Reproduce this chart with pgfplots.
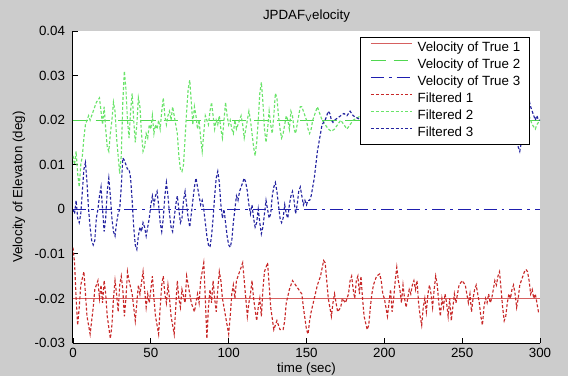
\documentclass[border=0pt]{standalone}
\usepackage{fontspec}
\setmainfont{Liberation Sans}
\usepackage{pgfplots}
\pgfplotsset{compat=1.18}
\definecolor{figgray}{RGB}{204,204,204}
\definecolor{truered}{RGB}{214,96,96}
\definecolor{truegreen}{RGB}{80,215,80}
\definecolor{trueblue}{RGB}{30,30,175}
\definecolor{filtred}{RGB}{200,40,40}
\definecolor{filtgreen}{RGB}{105,228,105}
\definecolor{filtblue}{RGB}{35,35,160}
\begin{document}
\fontsize{10}{12}\selectfont
\begin{tikzpicture}
\fill[figgray] (0,0) rectangle (426pt,282pt);
\useasboundingbox (0,0) rectangle (426pt,282pt);
\begin{axis}[
  at={(54.75pt,24.75pt)}, anchor=south west,
  scale only axis, width=350.25pt, height=234pt,
  xmin=0, xmax=300, ymin=-0.03, ymax=0.04,
  axis x line*=bottom, axis y line*=left,
  axis line style={-,black,line width=0.75pt},
  axis background/.style={fill=white},
  tick align=inside, major tick length=4pt,
  tick style={black,line width=0.6pt},
  xtick={0,50,100,150,200,250,300},
  ytick={-0.03,-0.02,-0.01,0,0.01,0.02,0.03,0.04},
  yticklabels={-0.03,-0.02,-0.01,0,0.01,0.02,0.03,0.04},
  scaled y ticks=false, scaled x ticks=false,
  /pgf/number format/assume math mode=true,
  tick label style={font=\fontsize{10}{12}\selectfont},
  yticklabel style={xshift=-2.5pt},
  title={JPDAF\textsubscript{V}elocity},
  title style={at={(axis description cs:0.5,1)}, anchor=base, yshift=3pt, font=\fontsize{10}{12}\selectfont},
  xlabel={time (sec)},
  xlabel style={at={(axis description cs:0.5,-0.096)}, anchor=base, font=\fontsize{10}{12}\selectfont},
  ylabel={Velocity of Elevaton (deg)},
  ylabel style={at={(axis description cs:-0.1156,0.5)}, anchor=center, rotate=0, font=\fontsize{10}{12}\selectfont},
  legend cell align=left,
  legend style={at={(axis description cs:0.9786,0.9808)}, anchor=north east,
    draw=black, line width=0.75pt, fill=white,
    font=\fontsize{10}{12}\selectfont,
    inner xsep=7pt, inner ysep=3.6pt,
    nodes={inner sep=0pt, text height=7.2pt, text depth=2.1pt},
    row sep=3.45pt, column sep=3.75pt},
  legend image code/.code={\draw[#1] (0pt,3.6pt) -- (30.75pt,3.6pt);},
]
\addplot[truered, line width=1.1pt] coordinates {(0,-0.02) (300,-0.02)};
\addlegendentry{Velocity of True 1}
\addplot[truegreen, line width=0.9pt, dash pattern=on 11pt off 6pt] coordinates {(0,0.02) (300,0.02)};
\addlegendentry{Velocity of True 2}
\addplot[trueblue, line width=0.9pt, dash pattern=on 9.75pt off 3.75pt on 2pt off 3.75pt] coordinates {(0,0) (300,0)};
\addlegendentry{Velocity of True 3}
\addplot[filtred, line width=0.85pt, dash pattern=on 2.2pt off 1.5pt] coordinates {
(0,-0.0086) (1,-0.012) (2,-0.020) (3,-0.026) (4,-0.022) (5,-0.017) (7,-0.014) (8,-0.019) (9,-0.024) (11,-0.028)
(13,-0.022) (14,-0.018) (16,-0.016) (17,-0.020) (18,-0.017) (19,-0.021) (20,-0.016) (21,-0.019) (22,-0.024) (24,-0.029)
(25,-0.026) (26,-0.020) (27,-0.016) (28,-0.019) (29,-0.023) (30,-0.017) (31,-0.015) (32,-0.018) (33,-0.024) (34,-0.020)
(35,-0.014) (36,-0.016) (38,-0.019) (40,-0.025) (41,-0.021) (42,-0.017) (43,-0.019) (45,-0.014) (46,-0.018) (47,-0.022)
(48,-0.019) (49,-0.021) (50,-0.018) (51,-0.015) (52,-0.020) (53,-0.024) (55,-0.028) (56,-0.022) (57,-0.017) (58,-0.015)
(59,-0.019) (60,-0.021) (61,-0.017) (62,-0.020) (63,-0.024) (65,-0.028) (66,-0.022) (67,-0.016) (68,-0.020) (69,-0.022)
(70,-0.018) (72,-0.021) (73,-0.015) (74,-0.017) (76,-0.021) (78,-0.023) (80,-0.019) (81,-0.021) (82,-0.016) (83,-0.014)
(84,-0.012) (85,-0.020) (86,-0.029) (87,-0.022) (88,-0.018) (89,-0.021) (90,-0.016) (91,-0.020) (92,-0.023) (93,-0.018)
(94,-0.014) (95,-0.016) (96,-0.020) (98,-0.024) (100,-0.028) (101,-0.024) (102,-0.019) (103,-0.017) (104,-0.020) (105,-0.016)
(107,-0.014) (109,-0.012) (110,-0.016) (111,-0.020) (112,-0.024) (113,-0.021) (114,-0.019) (115,-0.016) (116,-0.020) (118,-0.025)
(119,-0.022) (120,-0.020) (121,-0.024) (122,-0.018) (123,-0.014) (125,-0.012) (126,-0.017) (127,-0.022) (129,-0.027) (131,-0.025)
(133,-0.027) (135,-0.027) (136,-0.025) (137,-0.021) (139,-0.018) (141,-0.016) (143,-0.017) (145,-0.018) (147,-0.019) (148,-0.022)
(150,-0.027) (151,-0.028) (152,-0.025) (153,-0.023) (155,-0.020) (157,-0.017) (159,-0.015) (161,-0.0115) (162,-0.012) (163,-0.016)
(164,-0.020) (165,-0.022) (166,-0.024) (167,-0.021) (168,-0.019) (169,-0.021) (170,-0.023) (172,-0.022) (173,-0.020) (175,-0.021)
(177,-0.019) (178,-0.016) (179,-0.015) (180,-0.018) (181,-0.020) (182,-0.016) (183,-0.015) (184,-0.019) (185,-0.015) (186,-0.020)
(187,-0.024) (189,-0.027) (190,-0.026) (191,-0.022) (192,-0.019) (193,-0.017) (195,-0.015) (197,-0.0145) (198,-0.016) (199,-0.019)
(200,-0.020) (201,-0.022) (202,-0.024) (203,-0.021) (204,-0.018) (205,-0.023) (206,-0.020) (207,-0.016) (208,-0.013) (209,-0.016)
(210,-0.018) (211,-0.021) (212,-0.017) (213,-0.020) (214,-0.022) (215,-0.020) (216,-0.018) (217,-0.019) (218,-0.017) (219,-0.016)
(220,-0.018) (221,-0.016) (222,-0.021) (223,-0.024) (224,-0.026) (225,-0.022) (226,-0.020) (227,-0.023) (228,-0.019) (229,-0.017)
(230,-0.019) (231,-0.022) (232,-0.018) (233,-0.015) (234,-0.017) (235,-0.021) (236,-0.024) (237,-0.020) (238,-0.022) (239,-0.019)
(240,-0.021) (241,-0.024) (242,-0.020) (243,-0.025) (244,-0.022) (245,-0.019) (246,-0.021) (247,-0.019) (248,-0.017) (250,-0.016)
(252,-0.017) (253,-0.019) (254,-0.021) (255,-0.019) (256,-0.023) (257,-0.020) (258,-0.018) (259,-0.017) (260,-0.019) (261,-0.021)
(262,-0.024) (263,-0.026) (264,-0.022) (265,-0.020) (266,-0.021) (267,-0.019) (268,-0.021) (269,-0.020) (270,-0.018) (271,-0.016)
(272,-0.017) (273,-0.015) (274,-0.014) (275,-0.018) (276,-0.022) (277,-0.025) (278,-0.024) (279,-0.021) (280,-0.019) (281,-0.020)
(282,-0.018) (283,-0.017) (284,-0.019) (285,-0.022) (286,-0.020) (287,-0.017) (288,-0.016) (289,-0.015) (290,-0.014) (291,-0.0135)
(292,-0.014) (293,-0.016) (294,-0.019) (295,-0.018) (296,-0.020) (297,-0.019) (298,-0.021) (299,-0.023) (300,-0.023)};
\addlegendentry{Filtered 1}
\addplot[filtgreen, line width=0.85pt, dash pattern=on 2.2pt off 1.5pt] coordinates {
(0,0.012) (1,0.010) (2,0.013) (3,0.008) (4,0.005) (5,0.010) (6,0.012) (7,0.016) (8,0.019) (9,0.020)
(10,0.021) (11,0.020) (13,0.022) (15,0.024) (17,0.025) (18,0.022) (19,0.019) (20,0.023) (21,0.018) (22,0.014)
(23,0.013) (24,0.017) (25,0.020) (26,0.024) (27,0.022) (28,0.016) (29,0.012) (30,0.008) (31,0.012) (32,0.024)
(33,0.031) (34,0.027) (35,0.020) (36,0.016) (37,0.022) (38,0.026) (39,0.020) (40,0.015) (41,0.019) (42,0.025)
(43,0.023) (44,0.017) (45,0.013) (46,0.014) (47,0.017) (48,0.016) (49,0.019) (50,0.018) (51,0.021) (52,0.017)
(53,0.019) (54,0.018) (55,0.020) (56,0.018) (57,0.022) (58,0.025) (59,0.021) (60,0.019) (61,0.021) (62,0.022)
(63,0.020) (64,0.023) (65,0.021) (66,0.019) (67,0.017) (68,0.012) (69,0.009) (70,0.0085) (71,0.010) (72,0.016)
(73,0.022) (74,0.027) (75,0.029) (76,0.024) (77,0.019) (78,0.023) (79,0.021) (80,0.018) (81,0.020) (82,0.016)
(83,0.013) (84,0.017) (85,0.021) (86,0.020) (87,0.019) (88,0.022) (89,0.024) (90,0.021) (91,0.018) (92,0.020)
(93,0.019) (94,0.021) (95,0.018) (96,0.016) (97,0.020) (98,0.024) (99,0.021) (100,0.019) (101,0.020) (102,0.018)
(103,0.017) (104,0.020) (105,0.018) (106,0.019) (108,0.021) (109,0.019) (110,0.016) (111,0.018) (112,0.020) (113,0.022)
(114,0.020) (115,0.017) (116,0.014) (117,0.012) (118,0.015) (119,0.020) (120,0.026) (121,0.0285) (122,0.024) (123,0.018)
(124,0.015) (125,0.018) (126,0.022) (127,0.019) (128,0.017) (129,0.021) (130,0.026) (131,0.025) (132,0.021) (133,0.018)
(134,0.016) (135,0.017) (136,0.019) (137,0.021) (138,0.020) (139,0.018) (140,0.022) (141,0.021) (142,0.018) (143,0.017)
(144,0.019) (145,0.021) (146,0.023) (147,0.023) (148,0.022) (149,0.021) (150,0.020) (151,0.018) (152,0.017) (153,0.018)
(154,0.020) (155,0.021) (156,0.022) (157,0.023) (158,0.022) (159,0.021) (160,0.020) (162,0.019) (164,0.018) (166,0.0175)
(168,0.018) (170,0.019) (172,0.020) (174,0.019) (176,0.018) (178,0.019) (180,0.020) (185,0.021) (190,0.019) (195,0.022)
(200,0.020) (205,0.018) (210,0.021) (215,0.020) (220,0.022) (225,0.019) (230,0.020) (235,0.021) (240,0.019) (245,0.020)
(250,0.022) (255,0.019) (260,0.021) (265,0.020) (270,0.018) (275,0.021) (280,0.020) (285,0.021) (288,0.020) (291,0.022)
(293,0.021) (295,0.019) (297,0.018) (298,0.019) (300,0.020)};
\addlegendentry{Filtered 2}
\addplot[filtblue, line width=0.85pt, dash pattern=on 2.2pt off 1.5pt] coordinates {
(0,0.000) (1,-0.001) (2,0.002) (3,-0.002) (4,-0.003) (5,-0.001) (6,0.004) (7,0.009) (8,0.0105) (9,0.006)
(10,0.000) (11,-0.004) (12,-0.007) (13,-0.008) (14,-0.007) (15,-0.002) (16,0.000) (17,0.003) (18,0.005) (19,0.000)
(20,-0.005) (21,-0.002) (22,0.004) (23,0.007) (24,0.003) (25,-0.002) (26,-0.005) (27,-0.006) (28,-0.003) (29,-0.001)
(30,0.000) (31,0.005) (32,0.0115) (33,0.011) (34,0.010) (35,0.009) (36,0.009) (37,0.007) (38,0.002) (39,-0.004)
(40,-0.008) (41,-0.009) (42,-0.006) (43,-0.004) (44,-0.005) (45,-0.003) (46,-0.004) (47,-0.006) (48,-0.004) (49,-0.002)
(50,0.001) (51,0.003) (52,0.001) (53,0.003) (54,0.004) (55,0.001) (56,-0.003) (57,-0.005) (58,-0.002) (59,0.003)
(60,0.006) (61,0.003) (62,-0.001) (63,-0.004) (64,-0.005) (65,-0.002) (66,0.001) (67,0.003) (68,0.000) (69,-0.003)
(70,-0.002) (71,0.002) (72,0.004) (73,0.001) (74,-0.002) (75,-0.004) (76,-0.001) (77,0.002) (78,0.005) (79,0.007)
(80,0.005) (81,0.003) (82,0.001) (83,0.002) (84,0.000) (85,-0.003) (86,-0.006) (87,-0.008) (88,-0.0085) (89,-0.006)
(90,-0.002) (91,0.003) (92,0.007) (93,0.0085) (94,0.006) (95,0.001) (96,-0.002) (97,0.000) (98,-0.003) (99,-0.006)
(100,-0.008) (101,-0.0085) (102,-0.007) (103,-0.003) (104,0.000) (105,0.003) (106,0.002) (107,0.004) (108,0.005) (109,0.006)
(110,0.007) (111,0.006) (112,0.004) (113,0.001) (114,-0.001) (115,0.001) (116,-0.002) (117,-0.004) (118,-0.003) (119,0.000)
(120,-0.003) (121,-0.0055) (122,-0.004) (123,-0.001) (124,0.002) (125,0.000) (126,-0.002) (127,-0.001) (128,0.003) (129,0.005)
(130,0.006) (131,0.004) (132,0.001) (133,-0.002) (134,-0.003) (135,-0.002) (136,0.001) (137,-0.001) (138,-0.002) (139,0.001)
(140,0.003) (141,0.004) (142,0.002) (143,-0.001) (144,0.001) (145,0.004) (146,0.005) (147,0.003) (148,0.001) (149,0.002)
(150,0.001) (151,0.002) (152,0.002) (153,0.003) (154,0.005) (155,0.007) (156,0.010) (157,0.013) (158,0.015) (159,0.017)
(160,0.019) (161,0.0195) (162,0.020) (163,0.021) (164,0.022) (165,0.0215) (166,0.020) (167,0.0195) (168,0.020) (170,0.0205)
(172,0.021) (174,0.0215) (176,0.021) (178,0.022) (180,0.021) (185,0.020) (190,0.021) (195,0.019) (200,0.020) (210,0.021)
(220,0.020) (230,0.019) (240,0.020) (250,0.021) (260,0.020) (270,0.021) (280,0.020) (283,0.018) (285,0.015) (286,0.014)
(287,0.013) (288,0.015) (289,0.018) (290,0.021) (291,0.023) (292,0.024) (293,0.0245) (294,0.023) (295,0.022) (296,0.021)
(297,0.020) (298,0.021) (299,0.020) (300,0.020)};
\addlegendentry{Filtered 3}
\end{axis}
\end{tikzpicture}
\end{document}
